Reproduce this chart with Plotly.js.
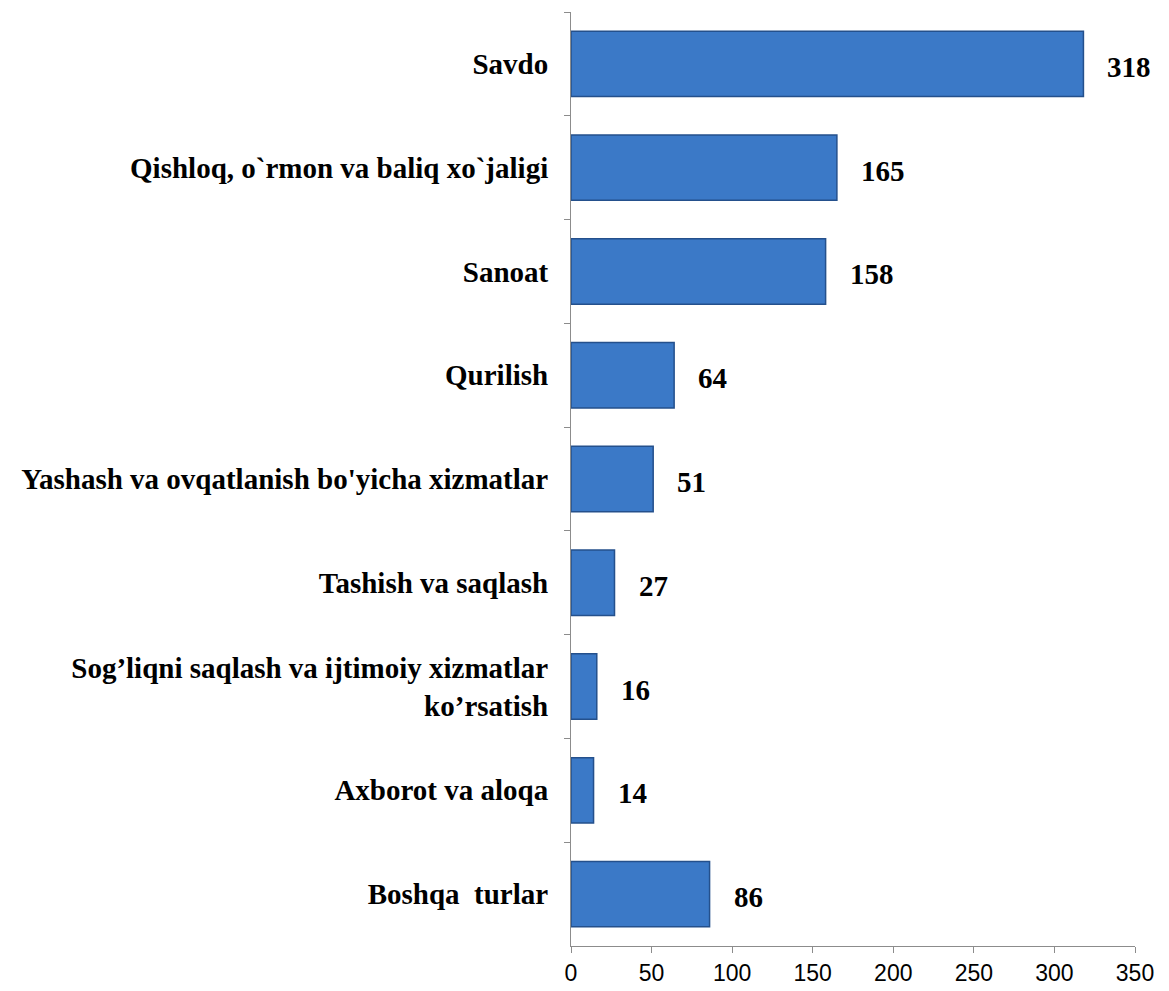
<!DOCTYPE html>
<html>
<head>
<meta charset="utf-8">
<script src="https://cdn.plot.ly/plotly-3.0.1.min.js"></script>
<style>html,body{margin:0;padding:0;background:#fff;}#chart{width:1169px;height:991px;}</style>
</head>
<body>
<div id="chart"></div>
<script>
const categories = [
  "Savdo",
  "Qishloq, o`rmon va baliq xo`jaligi",
  "Sanoat",
  "Qurilish",
  "Yashash va ovqatlanish bo'yicha xizmatlar",
  "Tashish va saqlash",
  "Sog’liqni saqlash va ijtimoiy xizmatlar<br>ko’rsatish",
  "Axborot va aloqa",
  "Boshqa  turlar"
];
const values = [318, 165, 158, 64, 51, 27, 16, 14, 86];
const xTicks = [0, 50, 100, 150, 200, 250, 300, 350];

const trace = {
  type: 'bar',
  orientation: 'h',
  y: categories,
  x: values,
  marker: {color: '#3b79c7', line: {color: '#24508c', width: 1.5}},
  hoverinfo: 'x+y'
};

const annotations = values.map((v, i) => ({
  x: v, y: categories[i], xref: 'x', yref: 'y',
  text: '<b>' + v + '</b>', showarrow: false,
  xanchor: 'left', xshift: 22, yshift: -3,
  font: {family: 'Liberation Serif, Times New Roman, serif', size: 29, color: '#000'}
}));

const layout = {
  width: 1169, height: 991,
  margin: {l: 571, r: 34, t: 12, b: 45},
  paper_bgcolor: '#fff', plot_bgcolor: '#fff',
  showlegend: false,
  bargap: 0.37,
  xaxis: {
    range: [0, 350], tickvals: xTicks, ticktext: xTicks.map(String),
    showgrid: false, zeroline: false, showline: true, linecolor: '#8c8c8c', linewidth: 1,
    ticks: 'outside', ticklen: 6, tickcolor: '#8c8c8c',
    tickfont: {family: 'Liberation Sans, Arial, sans-serif', size: 23, color: '#000'}
  },
  yaxis: {
    type: 'category', autorange: 'reversed',
    showgrid: false, zeroline: false, showline: true, linecolor: '#8c8c8c', linewidth: 1,
    ticks: 'outside', ticklen: 6, tickcolor: '#8c8c8c', tickson: 'boundaries',
    ticklabelstandoff: 16,
    tickfont: {family: 'Liberation Serif, Times New Roman, serif', size: 29, color: '#000', weight: 'bold'}
  },
  annotations: annotations
};

Plotly.newPlot('chart', [trace], layout, {displayModeBar: false, staticPlot: true});
</script>
</body>
</html>
